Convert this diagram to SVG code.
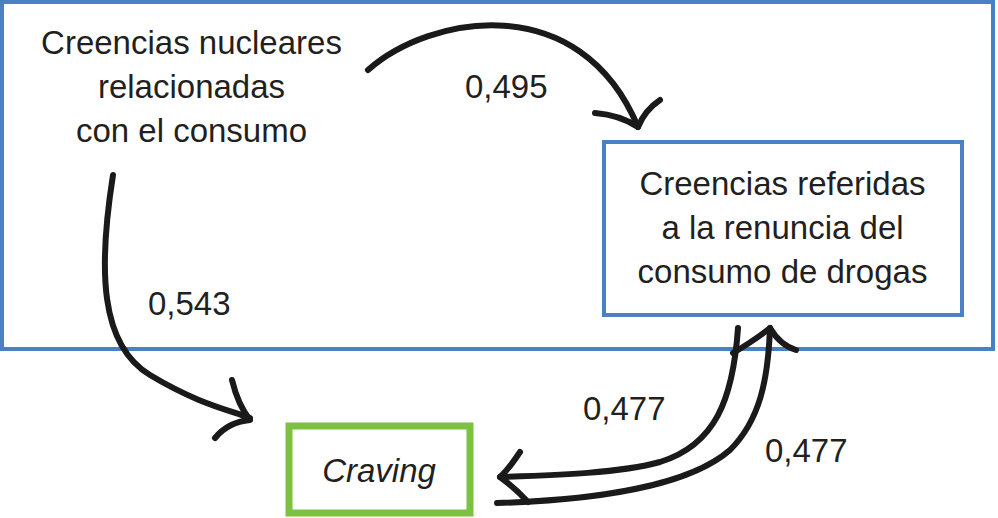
<svg xmlns="http://www.w3.org/2000/svg" width="998" height="518" viewBox="0 0 998 518">
  <style>
    .lbl { font-family: "Liberation Sans", Arial, Helvetica, sans-serif; font-size: 33px; fill: #231f20; }
    .mid { text-anchor: middle; }
    .blue { fill: none; stroke: #4a80c4; stroke-width: 4; }
    .green { fill: #ffffff; stroke: #7cc142; stroke-width: 7; }
    .arrow { fill: none; stroke: #1a1a1a; stroke-width: 6; stroke-linecap: round; stroke-linejoin: round; }
  </style>
  <rect x="0" y="0" width="998" height="518" fill="#ffffff"/>
  <g id="node-nucleares">
    <rect class="blue" x="2" y="2" width="991" height="347"/>
    <text class="lbl mid" x="191.5" y="54">Creencias nucleares</text>
    <text class="lbl mid" x="191.5" y="98">relacionadas</text>
    <text class="lbl mid" x="191.5" y="142">con el consumo</text>
  </g>
  <g id="node-renuncia">
    <rect class="blue" x="604" y="142" width="358" height="173" fill="#ffffff"/>
    <text class="lbl mid" x="782.5" y="195">Creencias referidas</text>
    <text class="lbl mid" x="782.5" y="239">a la renuncia del</text>
    <text class="lbl mid" x="782.5" y="283">consumo de drogas</text>
  </g>
  <g id="node-craving">
    <rect class="green" x="289" y="426" width="181" height="87"/>
    <text class="lbl mid" x="379" y="482" font-style="italic">Craving</text>
  </g>
  <g id="connectors">
    <g id="edge-nucleares-renuncia">
      <path class="arrow" d="M368,70 C430,15 580,-12 638,127"/>
      <path class="arrow" d="M595,113 Q620,115 638,127 Q645,110 660,100"/>
      <text class="lbl" x="465" y="98">0,495</text>
    </g>
    <g id="edge-nucleares-craving">
      <path class="arrow" d="M113,175 C98,270 100,345 150,375 S230,410 250,418"/>
      <path class="arrow" d="M232,380 Q238,405 250,420 Q228,422 215,438"/>
      <text class="lbl" x="148" y="315">0,543</text>
    </g>
    <g id="edge-renuncia-craving">
      <path class="arrow" d="M738,328 C733,400 715,445 660,462 C620,473 560,475 500,477"/>
      <path class="arrow" d="M520,452 Q508,470 500,477 Q515,488 528,502"/>
      <text class="lbl" x="583" y="420">0,477</text>
    </g>
    <g id="edge-craving-renuncia">
      <path class="arrow" d="M497,503 C600,500 690,485 730,450 C760,420 768,380 770,328"/>
      <path class="arrow" d="M733,353 Q755,340 770,328 Q780,345 796,350"/>
      <text class="lbl" x="765" y="462">0,477</text>
    </g>
  </g>
</svg>
